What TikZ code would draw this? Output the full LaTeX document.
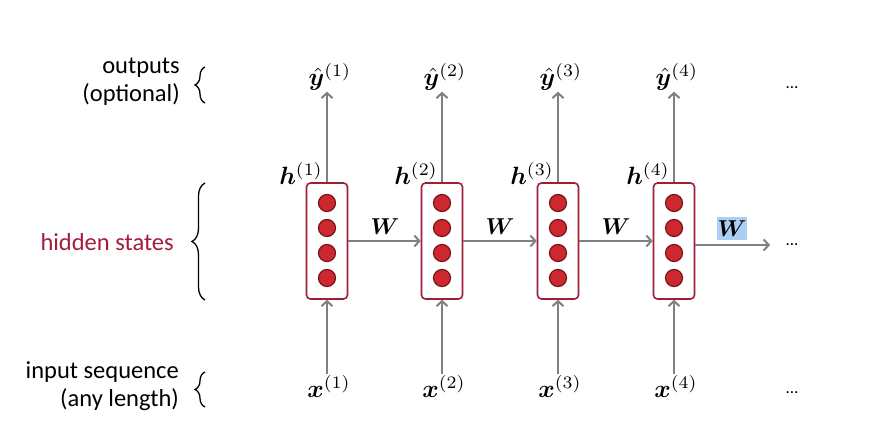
\documentclass[tikz,border=0pt]{standalone}
\usepackage{amsmath}
\usepackage{bm}
\usepackage{fontspec}
\setmainfont{Carlito}
\usetikzlibrary{arrows.meta,decorations.pathreplacing}
\definecolor{boxred}{RGB}{160,30,55}
\definecolor{dotred}{RGB}{205,40,45}
\definecolor{dotedge}{RGB}{120,20,30}
\definecolor{arrgray}{RGB}{128,128,128}
\definecolor{hilite}{RGB}{172,206,245}
\definecolor{txtred}{RGB}{165,28,60}
\newcommand{\rnnmath}[1]{\scalebox{2.5}{$#1$}}
\newcommand{\rnnW}{\scalebox{2.3}{$\boldsymbol{W}$}}
\tikzset{
  cell/.style={draw=boxred, line width=1.6pt, rounded corners=4pt, minimum width=41pt, minimum height=116pt, inner sep=0pt, fill=white},
  unit/.style={circle, draw=dotedge, line width=1.2pt, fill=dotred, minimum size=17pt, inner sep=0pt},
  arr/.style={draw=arrgray, line width=2pt, -{Straight Barb[length=5pt,width=11pt]}},
  mlab/.style={inner sep=1pt},
  side/.style={font=\fontsize{24.5}{28}\selectfont, align=right, inner sep=0pt},
  brc/.style={decorate, decoration={brace, amplitude=#1}, line width=1.3pt},
  brc/.default=10pt,
  dots/.style={font=\fontsize{17}{20}\selectfont, inner sep=0pt}
}
\begin{document}
\begin{tikzpicture}[x=1pt,y=-1pt]
\useasboundingbox (0,0) rectangle (880,443);
\fill[white] (0,0) rectangle (880,443);
% cells
\foreach \i/\cx in {1/327,2/442,3/558,4/674}{
  \node[cell] (b\i) at (\cx,241) {};
  \node[unit] (u\i a) at (\cx,203) {};
  \node[unit] (u\i b) at (\cx,228) {};
  \node[unit] (u\i c) at (\cx,253) {};
  \node[unit] (u\i d) at (\cx,278) {};
  \node[mlab] (y\i) at (\cx+3,77) {\rnnmath{\boldsymbol{\hat{y}}^{(\i)}}};
  \node[mlab] (x\i) at (\cx+2,386) {\rnnmath{\boldsymbol{x}^{(\i)}}};
  \node[mlab, anchor=south east] (h\i) at (\cx-3,186) {\rnnmath{\boldsymbol{h}^{(\i)}}};
  \draw[arr] (b\i.north) -- (y\i.south -| b\i.north);
  \draw[arr] (x\i.north -| b\i.south) -- (b\i.south);
}
% recurrent arrows
\draw[arr] (b1.east) -- (b2.west);
\draw[arr] (b2.east) -- (b3.west);
\draw[arr] (b3.east) -- (b4.west);
\coordinate (end) at (770,245);
\draw[arr] (b4.east |- end) -- (end);
\node[mlab] (w1) at (385,227) {\rnnW};
\node[mlab] (w2) at (500,227) {\rnnW};
\node[mlab] (w3) at (616,227) {\rnnW};
\node[mlab, fill=hilite, inner sep=0pt, minimum width=30pt, minimum height=23pt] (w4) at (732,228.5) {\rnnW};
% dots
\node[dots] (d1) at (792,88) {...};
\node[dots] (d2) at (792,245) {...};
\node[dots] (d3) at (792,393) {...};
% side labels
\node[side, anchor=east] (out) at (180,82) {outputs\\(optional)};
\node[side, anchor=east, text=txtred] (hid) at (174,242) {hidden states};
\node[side, anchor=east] (inp) at (179,386) {input sequence\\(any length)};
\draw[brc] (205,103) -- (205,67);
\draw[brc=13pt] (205,300) -- (205,183);
\draw[brc] (205,407) -- (205,372);
\end{tikzpicture}
\end{document}
